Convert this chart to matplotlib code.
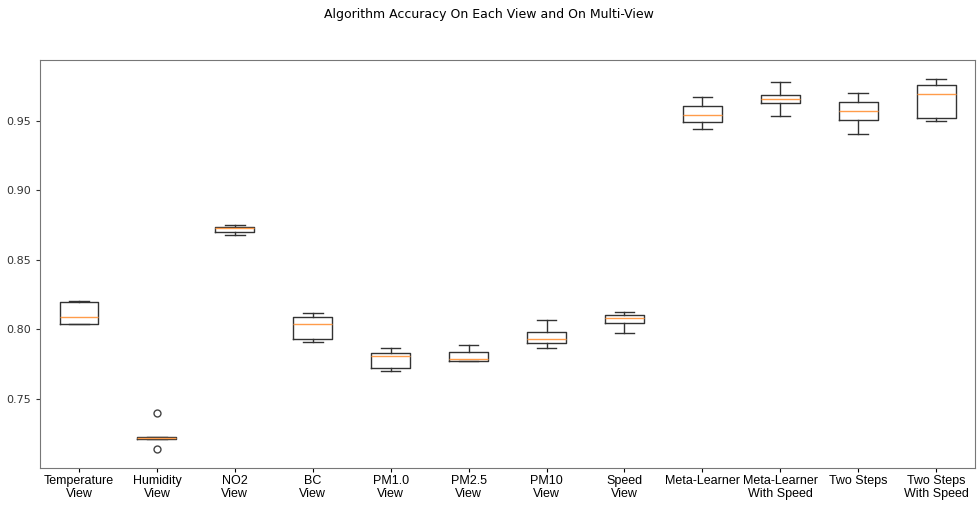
import matplotlib
matplotlib.use("Agg")
import matplotlib.pyplot as plt

# box statistics
labels = ["Temperature\nView", "Humidity\nView", "NO2\nView", "BC\nView",
          "PM1.0\nView", "PM2.5\nView", "PM10\nView", "Speed\nView",
          "Meta-Learner", "Meta-Learner\nWith Speed", "Two Steps",
          "Two Steps\nWith Speed"]
whislo = [0.8040, 0.7210, 0.8675, 0.7905, 0.7699, 0.7773, 0.7867, 0.7975,
          0.9445, 0.9538, 0.9404, 0.9500]
q1 = [0.8040, 0.7210, 0.8697, 0.7927, 0.7723, 0.7773, 0.7898, 0.8042,
      0.9493, 0.9629, 0.9505, 0.9519]
med = [0.8090, 0.7217, 0.8726, 0.8040, 0.7807, 0.7785, 0.7929, 0.8083,
       0.9546, 0.9661, 0.9574, 0.9694]
q3 = [0.8196, 0.7222, 0.8733, 0.8090, 0.7826, 0.7833, 0.7982, 0.8102,
      0.9606, 0.9687, 0.9634, 0.9757]
whishi = [0.8205, 0.7222, 0.8752, 0.8116, 0.7867, 0.7886, 0.8063, 0.8124,
          0.9673, 0.9781, 0.9701, 0.9802]
fliers = [[], [0.7394, 0.7138], [], [], [], [], [], [], [], [], [], []]

stats = []
for i in range(len(labels)):
    stats.append(dict(whislo=whislo[i], q1=q1[i], med=med[i], q3=q3[i],
                      whishi=whishi[i], fliers=fliers[i], label=labels[i]))

fig = plt.figure(figsize=(9.77, 5.07), dpi=100)
ax = fig.add_axes([0.041, 0.077, 0.957, 0.805])
ax.bxp(stats,
       boxprops=dict(linewidth=1.0, color="#333333"),
       whiskerprops=dict(linewidth=1.0, color="#333333"),
       capprops=dict(linewidth=1.0, color="#333333"),
       medianprops=dict(linewidth=1.0, color="#ff9c4a"),
       flierprops=dict(marker="o", markersize=5, markerfacecolor="none",
                       markeredgecolor="#444444", markeredgewidth=1.0))

ax.set_ylim(0.700, 0.994)
ax.set_yticks([0.75, 0.80, 0.85, 0.90, 0.95])
ax.tick_params(axis="y", labelsize=8, colors="#333333", length=3)
ax.tick_params(axis="x", labelsize=9, length=3, pad=2)
for lab in ax.get_xticklabels():
    lab.set_fontfamily("Liberation Sans")
    lab.set_linespacing(1.15)
for s in ax.spines.values():
    s.set_color("#777777")

fig.suptitle("Algorithm Accuracy On Each View and On Multi-View",
             fontsize=9, y=0.985)
fig.savefig("out.png", dpi=100)
